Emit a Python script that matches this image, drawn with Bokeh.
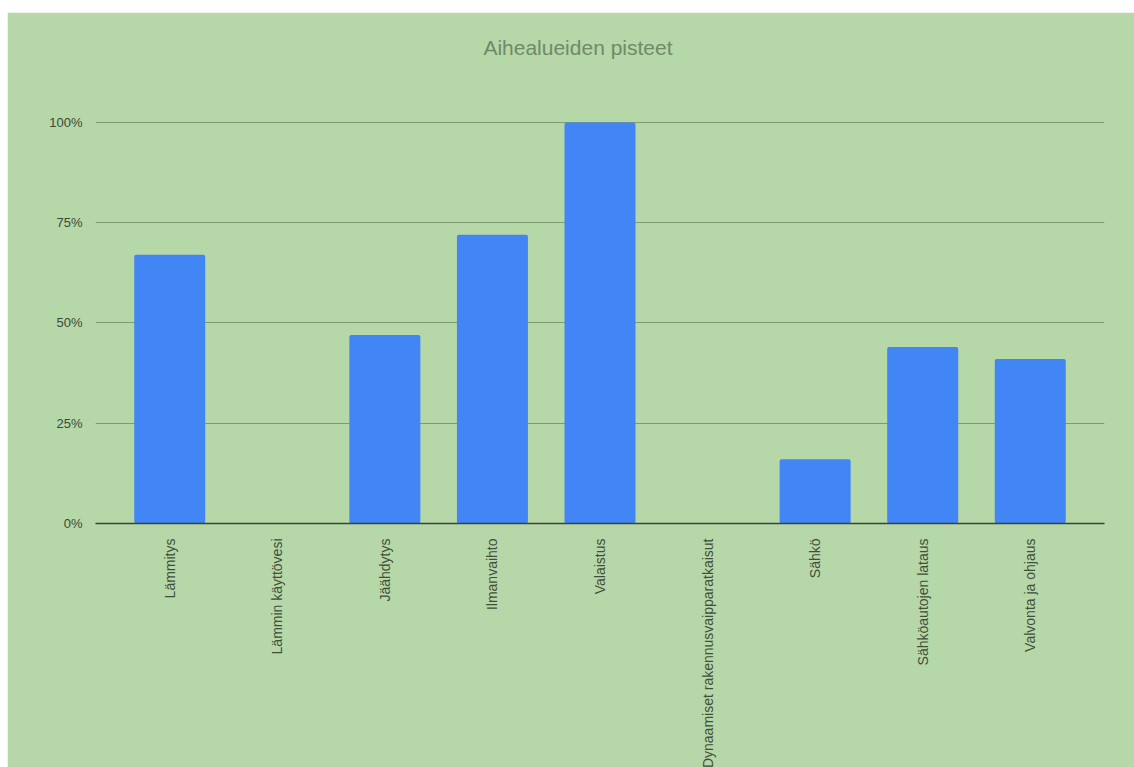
from bokeh.plotting import figure
from bokeh.models import FactorRange, Range1d, FixedTicker, NumeralTickFormatter, Label, ColumnDataSource
from bokeh.embed import file_html
from bokeh.resources import INLINE
from math import pi

categories = ["Lämmitys", "Lämmin käyttövesi", "Jäähdytys", "Ilmanvaihto", "Valaistus",
              "Dynaamiset rakennusvaipparatkaisut", "Sähkö", "Sähköautojen lataus", "Valvonta ja ohjaus"]
scores = [0.67, 0.0, 0.47, 0.72, 1.00, 0.0, 0.16, 0.44, 0.41]
y_ticks = [0, 0.25, 0.5, 0.75, 1.0]
title_text = "Aihealueiden pisteet"

GREEN = "#b6d7a8"
src = ColumnDataSource(dict(cat=categories, val=scores))

p = figure(x_range=FactorRange(factors=categories, range_padding=0.19, range_padding_units="absolute"),
           y_range=Range1d(0, 1.2693),
           frame_width=1009, frame_height=509, output_backend="svg", toolbar_location=None,
           min_border_left=88, min_border_right=30, min_border_top=2, min_border_bottom=250)
p.margin = (12, 0, 0, 7)
p.background_fill_color = GREEN
p.border_fill_color = GREEN
p.outline_line_color = GREEN
p.outline_line_width = 2

p.vbar(x="cat", top="val", width=0.66, source=src, color="#4285f4", line_color=None, border_radius=2)

p.xgrid.grid_line_color = None
p.ygrid.grid_line_color = "#7a9c6e"
p.ygrid.grid_line_width = 1
p.yaxis.ticker = FixedTicker(ticks=y_ticks)
p.yaxis.formatter = NumeralTickFormatter(format="0%")
p.yaxis.axis_line_color = None
p.yaxis.major_tick_line_color = None
p.yaxis.minor_tick_line_color = None
p.yaxis.major_label_standoff = 7
p.yaxis.major_label_text_font = "Liberation Sans"
p.yaxis.major_label_text_font_size = "13px"
p.yaxis.major_label_text_color = "#3a4a36"

p.xaxis.axis_line_color = "#3a4436"
p.xaxis.axis_line_width = 1.5
p.xaxis.major_tick_line_color = None
p.xaxis.minor_tick_line_color = None
p.xaxis.major_label_orientation = pi / 2
p.xaxis.major_label_standoff = 9
p.xaxis.major_label_text_font = "Liberation Sans"
p.xaxis.major_label_text_font_size = "14px"
p.xaxis.major_label_text_color = "#3f4f3b"

p.add_layout(Label(x=4.295, y=1.187, text=title_text, text_align="center", text_baseline="middle",
                   text_font="Liberation Sans", text_font_size="21px", text_color="#6f8a69"))

open("out.html", "w").write(file_html(p, INLINE))
